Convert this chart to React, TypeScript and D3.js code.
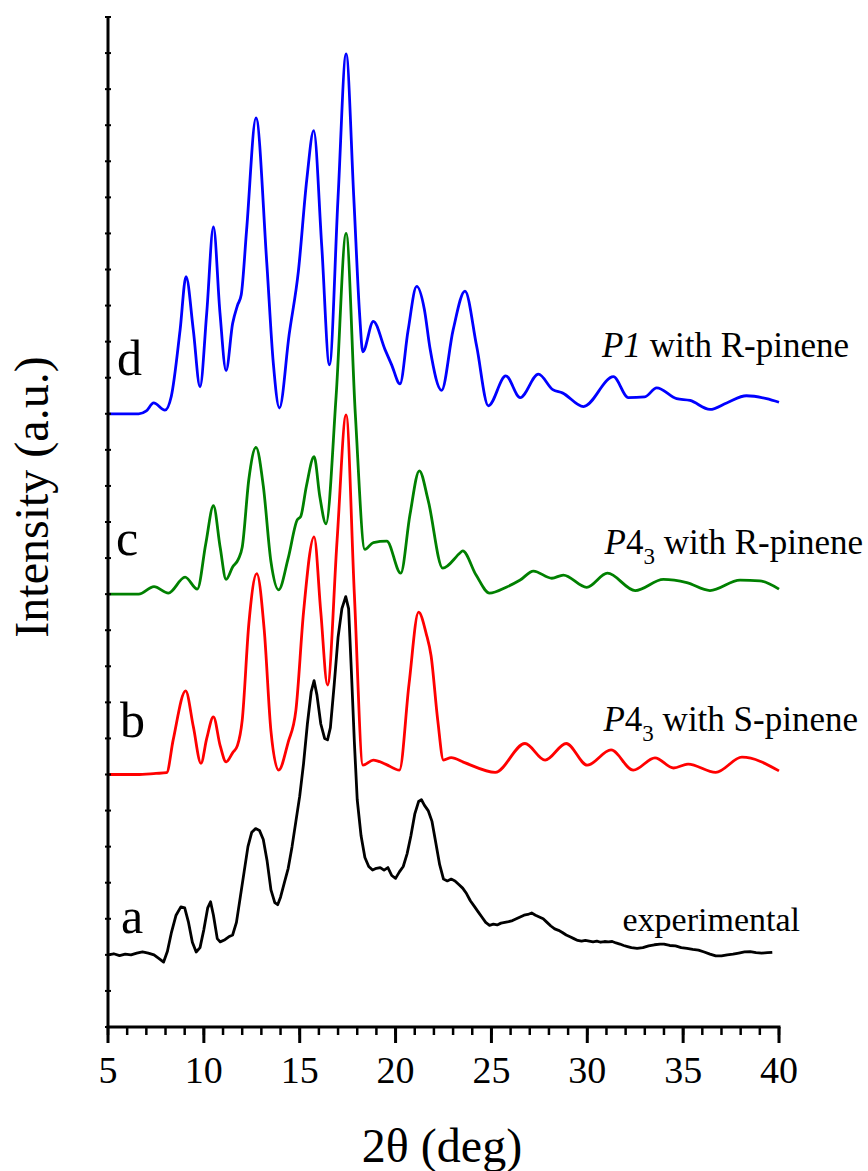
import React, { useEffect, useRef } from 'react';
import * as d3 from 'd3';

const width = 868;
const height = 1171;

// x axis ticks (2θ, deg)
const majorTicks = [5, 10, 15, 20, 25, 30, 35, 40];
const minorTicks = d3.range(5, 41, 1);

// vertical offsets of each trace (in y-tick units)
const offsetA = 2;
const offsetB = 7;
const offsetC = 12;
const offsetD = 17;

// a: experimental pattern [2θ, intensity above its baseline]
const traceA: [number, number][] = [
  [5.0, 0.0], [5.3, 0.03], [5.6, -0.02], [5.9, 0.02], [6.2, 0.0], [6.5, 0.05], [6.8, 0.08],
  [7.1, 0.05], [7.4, 0.0], [7.7, -0.12], [7.9, -0.2], [8.1, 0.1], [8.3, 0.6], [8.55, 1.1],
  [8.8, 1.33], [9.0, 1.3], [9.2, 0.9], [9.4, 0.35], [9.6, 0.08], [9.8, 0.2], [10.0, 0.7],
  [10.2, 1.3], [10.35, 1.47], [10.5, 1.1], [10.7, 0.45], [10.85, 0.36], [11.1, 0.42],
  [11.3, 0.5], [11.5, 0.55], [11.7, 0.9], [11.9, 1.6], [12.1, 2.3], [12.3, 3.0], [12.5, 3.4],
  [12.7, 3.5], [12.9, 3.45], [13.1, 3.2], [13.3, 2.6], [13.5, 1.8], [13.7, 1.45], [13.85, 1.39],
  [14.0, 1.6], [14.2, 2.0], [14.4, 2.4], [14.6, 3.0], [14.8, 3.7], [15.0, 4.4], [15.2, 5.3],
  [15.4, 6.4], [15.6, 7.3], [15.75, 7.6], [15.9, 7.2], [16.1, 6.4], [16.3, 6.0], [16.45, 5.96],
  [16.6, 6.3], [16.8, 7.5], [17.0, 8.8], [17.2, 9.6], [17.4, 9.93], [17.55, 9.6], [17.7, 7.8],
  [17.85, 5.9], [18.0, 4.3], [18.2, 3.3], [18.4, 2.7], [18.6, 2.45], [18.8, 2.35], [19.0, 2.4],
  [19.2, 2.42], [19.4, 2.35], [19.6, 2.42], [19.8, 2.2], [20.0, 2.12], [20.2, 2.3], [20.4, 2.45],
  [20.6, 2.8], [20.8, 3.3], [21.0, 3.9], [21.2, 4.25], [21.35, 4.3], [21.5, 4.15], [21.7, 4.0],
  [21.9, 3.7], [22.1, 3.1], [22.3, 2.5], [22.5, 2.1], [22.7, 2.05], [22.9, 2.1], [23.1, 2.05],
  [23.3, 1.95], [23.5, 1.85], [23.7, 1.7], [23.9, 1.5], [24.1, 1.35], [24.3, 1.2], [24.5, 1.05],
  [24.7, 0.9], [24.9, 0.82], [25.1, 0.85], [25.3, 0.83], [25.5, 0.88], [25.7, 0.9], [25.9, 0.92],
  [26.1, 0.95], [26.3, 1.0], [26.5, 1.05], [26.7, 1.1], [26.9, 1.12], [27.1, 1.16], [27.3, 1.1],
  [27.5, 1.05], [27.7, 1.0], [27.9, 0.9], [28.1, 0.8], [28.3, 0.72], [28.5, 0.68], [28.7, 0.62],
  [28.9, 0.55], [29.1, 0.5], [29.3, 0.45], [29.5, 0.4], [29.7, 0.38], [29.9, 0.4], [30.1, 0.38],
  [30.3, 0.36], [30.5, 0.38], [30.7, 0.35], [30.9, 0.37], [31.1, 0.36], [31.3, 0.37], [31.5, 0.33],
  [31.7, 0.3], [31.9, 0.26], [32.1, 0.23], [32.3, 0.2], [32.6, 0.18], [32.9, 0.2], [33.2, 0.25],
  [33.5, 0.28], [33.8, 0.3], [34.0, 0.3], [34.3, 0.26], [34.6, 0.25], [34.9, 0.2], [35.2, 0.18],
  [35.5, 0.15], [35.8, 0.13], [36.1, 0.08], [36.4, 0.02], [36.7, -0.03], [37.0, -0.03], [37.3, 0.0],
  [37.6, 0.02], [37.9, 0.05], [38.2, 0.08], [38.5, 0.09], [38.8, 0.06], [39.1, 0.05], [39.4, 0.06],
  [39.65, 0.07],
];

// b: P4_3 with S-pinene
const traceB: [number, number][] = [
  [5, 0], [6.5, 0], [7.5, 0.03], [8.06, 0.05], [8.4, 0.96], [9.05, 2.32], [9.45, 1.33],
  [9.85, 0.31], [10.15, 1.0], [10.5, 1.6], [10.85, 0.8], [11.16, 0.35], [11.5, 0.6], [11.75, 0.8],
  [12.0, 1.5], [12.35, 4.2], [12.76, 5.57], [13.15, 4.0], [13.5, 1.2], [13.9, 0.12], [14.4, 0.9],
  [14.8, 1.78], [15.2, 4.5], [15.75, 6.59], [16.1, 4.5], [16.45, 2.48], [16.95, 6.5], [17.42, 9.97],
  [17.85, 5.0], [18.3, 0.26], [18.84, 0.4], [19.5, 0.28], [20.2, 0.12], [20.7, 2.5], [21.2, 4.5],
  [21.6, 3.9], [21.85, 3.3], [22.2, 1.5], [22.5, 0.4], [22.9, 0.47], [23.6, 0.33], [25.2, 0.06],
  [26.75, 0.86], [27.8, 0.4], [28.9, 0.86], [30.0, 0.26], [31.24, 0.68], [32.4, 0.12], [33.53, 0.46],
  [34.5, 0.18], [35.26, 0.29], [36.7, 0.06], [38.07, 0.48], [40, 0.1],
];

// c: P4_3 with R-pinene
const traceC: [number, number][] = [
  [5, 0], [6.6, 0], [7.4, 0.21], [8.15, 0.03], [9.02, 0.47], [9.66, 0.14], [10.1, 1.4],
  [10.5, 2.45], [10.85, 1.3], [11.16, 0.41], [11.5, 0.75], [11.8, 0.97], [12.0, 1.3], [12.35, 3.2],
  [12.72, 4.07], [13.1, 3.0], [13.5, 0.9], [13.9, 0.12], [14.4, 1.0], [14.87, 2.06], [15.05, 2.15],
  [15.35, 3.0], [15.75, 3.81], [16.05, 2.7], [16.37, 1.95], [16.9, 5.5], [17.42, 10.0], [17.9, 5.0],
  [18.4, 1.24], [18.84, 1.43], [19.54, 1.47], [20.27, 0.58], [20.75, 2.2], [21.24, 3.42], [21.7, 2.6],
  [22.46, 0.72], [23.36, 1.14], [23.5, 1.2], [24.2, 0.53], [24.9, 0.03], [25.8, 0.2], [26.5, 0.39],
  [27.19, 0.64], [28.15, 0.44], [28.75, 0.53], [29.97, 0.19], [31.05, 0.58], [32.5, 0.1], [33.97, 0.41],
  [35.19, 0.32], [36.4, 0.1], [37.97, 0.39], [39.0, 0.37], [40, 0.14],
];

// d: P1 with R-pinene
const traceD: [number, number][] = [
  [5, 0], [6.6, 0], [7.0, 0.08], [7.38, 0.3], [7.97, 0.1], [8.3, 0.48], [8.76, 2.32], [9.07, 3.8],
  [9.45, 2.32], [9.8, 0.75], [10.15, 2.8], [10.5, 5.18], [10.84, 2.8], [11.16, 1.2], [11.5, 2.5],
  [11.75, 3.0], [11.95, 3.3], [12.23, 5.1], [12.72, 8.2], [13.28, 4.2], [13.62, 1.42], [13.94, 0.16],
  [14.45, 2.2], [14.93, 3.95], [15.37, 6.5], [15.73, 7.85], [16.15, 4.64], [16.55, 1.36], [17.0, 6.0],
  [17.42, 9.98], [17.82, 6.0], [18.12, 2.8], [18.29, 1.72], [18.84, 2.56], [19.45, 1.78], [19.8, 1.35],
  [20.23, 0.83], [20.65, 2.3], [21.1, 3.53], [21.5, 2.9], [21.8, 1.8], [22.4, 0.65], [23.0, 2.32],
  [23.62, 3.4], [24.23, 1.87], [24.84, 0.22], [25.75, 1.05], [26.5, 0.45], [27.45, 1.1], [28.2, 0.67],
  [28.7, 0.58], [29.8, 0.2], [31.36, 1.03], [32.14, 0.45], [33.0, 0.47], [33.62, 0.72], [34.66, 0.42],
  [35.36, 0.37], [36.4, 0.12], [37.27, 0.3], [38.3, 0.5], [39.35, 0.42], [40, 0.32],
];

const FONT = '"Liberation Serif", "Times New Roman", serif';

const App = () => {
  const svgRef = useRef<SVGSVGElement>(null);

  useEffect(() => {
    const svg = d3.select(svgRef.current);
    svg.selectAll('*').remove();

    const x = d3.scaleLinear().domain([5, 40]).range([108, 779]);
    const y = d3.scaleLinear().domain([0, 28]).range([1027, 17]);

    const series = [
      { data: traceA, offset: offsetA, color: '#000000', curve: d3.curveLinear },
      { data: traceB, offset: offsetB, color: '#ff0000', curve: d3.curveMonotoneX },
      { data: traceC, offset: offsetC, color: '#008000', curve: d3.curveMonotoneX },
      { data: traceD, offset: offsetD, color: '#0000ff', curve: d3.curveMonotoneX },
    ];

    series.forEach(s => {
      const line = d3.line<[number, number]>()
        .x(d => x(d[0]))
        .y(d => y(d[1] + s.offset))
        .curve(s.curve);
      svg.append('path')
        .datum(s.data)
        .attr('d', line)
        .attr('fill', 'none')
        .attr('stroke', s.color)
        .attr('stroke-width', 2.8)
        .attr('stroke-linejoin', 'round');
    });

    // y axis: line with small crossing ticks, no labels
    const gy = svg.append('g');
    gy.selectAll('line.yt')
      .data(d3.range(0, 29))
      .enter()
      .append('line')
      .attr('x1', 105)
      .attr('x2', 111)
      .attr('y1', d => y(d))
      .attr('y2', d => y(d))
      .attr('stroke', '#000')
      .attr('stroke-width', 2);
    gy.append('line')
      .attr('x1', 108).attr('x2', 108)
      .attr('y1', y(28)).attr('y2', y(0))
      .attr('stroke', '#000').attr('stroke-width', 3);

    // x axis
    const gx = svg.append('g');
    gx.selectAll('line.minor')
      .data(minorTicks)
      .enter()
      .append('line')
      .attr('x1', d => x(d)).attr('x2', d => x(d))
      .attr('y1', 1027).attr('y2', 1035)
      .attr('stroke', '#000').attr('stroke-width', 2.5);
    gx.selectAll('line.major')
      .data(majorTicks)
      .enter()
      .append('line')
      .attr('x1', d => x(d)).attr('x2', d => x(d))
      .attr('y1', 1027).attr('y2', 1043)
      .attr('stroke', '#000').attr('stroke-width', 3);
    gx.append('line')
      .attr('x1', x(5) - 1.5).attr('x2', x(40) + 1.5)
      .attr('y1', 1027).attr('y2', 1027)
      .attr('stroke', '#000').attr('stroke-width', 3);
    gx.selectAll('text')
      .data(majorTicks)
      .enter()
      .append('text')
      .attr('x', d => x(d))
      .attr('y', 1083)
      .attr('text-anchor', 'middle')
      .style('font-family', FONT)
      .style('font-size', '38px')
      .text(d => d);

    // axis titles
    svg.append('text')
      .attr('x', 442)
      .attr('y', 1162)
      .attr('text-anchor', 'middle')
      .style('font-family', FONT)
      .style('font-size', '48px')
      .text('2θ (deg)');

    svg.append('text')
      .attr('transform', 'translate(48,497) rotate(-90)')
      .attr('text-anchor', 'middle')
      .style('font-family', FONT)
      .style('font-size', '48px')
      .text('Intensity (a.u.)');

    // trace letters
    const letters = [
      { t: 'a', x: 121, y: 933 },
      { t: 'b', x: 120, y: 737 },
      { t: 'c', x: 116, y: 555 },
      { t: 'd', x: 117, y: 375 },
    ];
    letters.forEach(l => {
      svg.append('text')
        .attr('x', l.x).attr('y', l.y)
        .style('font-family', FONT)
        .style('font-size', '50px')
        .text(l.t);
    });

    // trace descriptions
    const lab = (xEnd: number, yBase: number, italic: string, sub: string | null, rest: string) => {
      const t = svg.append('text')
        .attr('x', xEnd).attr('y', yBase)
        .attr('text-anchor', 'end')
        .style('font-family', FONT)
        .style('font-size', '35px');
      t.append('tspan').style('font-style', 'italic').text(italic);
      if (sub) {
        t.append('tspan').text('4');
        t.append('tspan').attr('dy', 10).style('font-size', '23px').text(sub);
        t.append('tspan').attr('dy', -10).text(rest);
      } else {
        t.append('tspan').text(rest);
      }
    };
    lab(849, 357, 'P1', null, ' with R-pinene');
    lab(863, 554, 'P', '3', ' with R-pinene');
    lab(858, 731, 'P', '3', ' with S-pinene');

    svg.append('text')
      .attr('x', 800).attr('y', 931)
      .attr('text-anchor', 'end')
      .style('font-family', FONT)
      .style('font-size', '34px')
      .text('experimental');
  }, []);

  return (
    <svg
      ref={svgRef}
      width={width}
      height={height}
      style={{ position: 'absolute', left: 0, top: 0, background: '#fff' }}
    />
  );
};

export default App;
